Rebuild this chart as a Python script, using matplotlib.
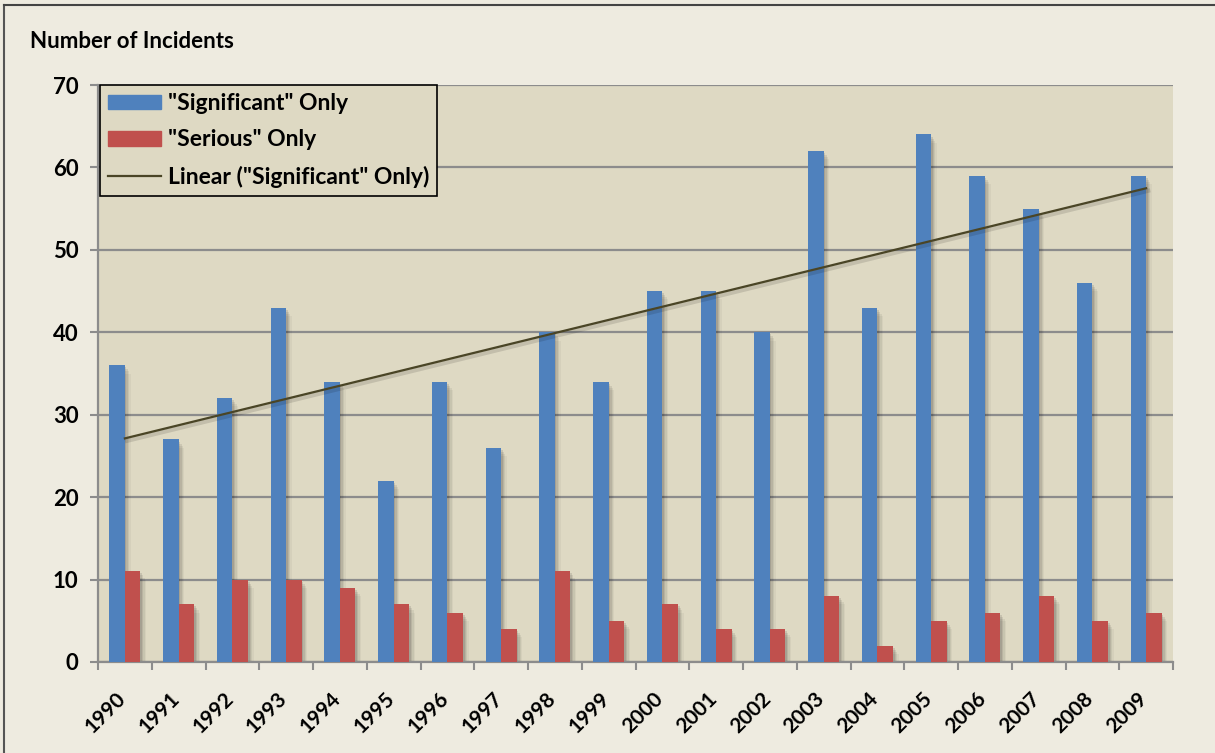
import numpy as np
import matplotlib
matplotlib.use("Agg")
import matplotlib.pyplot as plt
import matplotlib.transforms as mtransforms
from matplotlib.patches import Rectangle
from matplotlib.lines import Line2D

# ---------------------------------------------------------------
# Data
# ---------------------------------------------------------------
years = [str(y) for y in range(1990, 2010)]
significant = [36, 27, 32, 43, 34, 22, 34, 26, 40, 34,
               45, 45, 40, 62, 43, 64, 59, 55, 46, 59]
serious = [11, 7, 10, 10, 9, 7, 6, 4, 11, 5,
           7, 4, 4, 8, 2, 5, 6, 8, 5, 6]
y_ticks = [0, 10, 20, 30, 40, 50, 60, 70]

BLUE = "#4F81BD"
RED = "#C0504D"
TREND = "#4A4526"
PLOT_BG = "#DED9C3"
FIG_BG = "#EEEBE0"
GRID = "#8C8C8C"

plt.rcParams["font.family"] = ["Lato", "DejaVu Sans"]
plt.rcParams["font.weight"] = "bold"

fig = plt.figure(figsize=(12.15, 7.53), dpi=100, facecolor=FIG_BG)
ax = fig.add_axes([98 / 1215, 1 - 662 / 753, (1173 - 98) / 1215, (662 - 85) / 753])
ax.set_facecolor(PLOT_BG)

x = np.arange(len(years))
w = 0.29

# soft shadows behind the bars
for k, a in enumerate([0.10, 0.08, 0.06, 0.04]):
    off = 0.03 + 0.025 * k
    ax.bar(x - w / 2 + off, np.array(significant) - 0.25 * (k + 1), w,
           color="black", alpha=a, zorder=1, linewidth=0)
    ax.bar(x + w / 2 + off, np.array(serious) - 0.25 * (k + 1), w,
           color="black", alpha=a, zorder=1, linewidth=0)

ax.bar(x - w / 2, significant, w, color=BLUE, zorder=3, linewidth=0)
ax.bar(x + w / 2, serious, w, color=RED, zorder=3, linewidth=0)

# linear trendline of the significant series
coef = np.polyfit(x, significant, 1)
trend = np.polyval(coef, x)
ax.plot(x + 0.04, trend - 0.3, color="black", alpha=0.12, lw=3, zorder=3.5)
ax.plot(x, trend, color=TREND, lw=1.6, zorder=4)

ax.set_xlim(-0.5, len(years) - 0.5)
ax.set_ylim(0, 70)
ax.set_yticks(y_ticks)
ax.set_yticklabels([str(v) for v in y_ticks], fontsize=16, fontweight="bold")
ax.yaxis.grid(True, color=GRID, lw=1.6, zorder=0)
ax.set_axisbelow(True)

ax.set_xticks(x)
ax.set_xticklabels(years, rotation=45, ha="right", rotation_mode="anchor",
                   fontsize=15, fontweight="bold")
ax.set_xticks(np.arange(-0.5, len(years)), minor=True)
ax.tick_params(axis="x", which="major", length=0, pad=19)
ax.tick_params(axis="x", which="minor", length=6, width=1.5, color=GRID)
ax.tick_params(axis="y", length=6, width=1.5, color=GRID, pad=8)
shift = mtransforms.ScaledTranslation(-9 / 100, 0, fig.dpi_scale_trans)
for lab in ax.get_xticklabels():
    lab.set_transform(lab.get_transform() + shift)

for s in ["top", "right"]:
    ax.spines[s].set_visible(False)
for s in ["left", "bottom"]:
    ax.spines[s].set_color(GRID)
    ax.spines[s].set_linewidth(1.6)

handles = [Rectangle((0, 0), 1, 1, color=BLUE),
           Rectangle((0, 0), 1, 1, color=RED),
           Line2D([0], [0], color=TREND, lw=1.6)]
labels = ['"Significant" Only', '"Serious" Only', 'Linear ("Significant" Only)']
leg = ax.legend(handles, labels, loc="upper left", bbox_to_anchor=(0.002, 1.0),
                prop={"size": 16.5, "weight": "bold"}, frameon=True,
                fancybox=False, facecolor=PLOT_BG, edgecolor="black",
                framealpha=1, handlelength=2.3, handleheight=0.62,
                handletextpad=0.3, borderpad=0.35, labelspacing=0.67,
                borderaxespad=0)
leg.get_frame().set_linewidth(1.2)
leg.set_zorder(10)

fig.text(30 / 1215, 1 - 42 / 753, "Number of Incidents", fontsize=16,
         fontweight="bold", va="center", ha="left")

# outer chart frame (left and top edges visible)
fig.add_artist(Line2D([4 / 1215, 4 / 1215], [0, 1 - 5 / 753],
                      transform=fig.transFigure, color="#555555", lw=1.5))
fig.add_artist(Line2D([4 / 1215, 1], [1 - 5 / 753, 1 - 5 / 753],
                      transform=fig.transFigure, color="#444444", lw=1.5))

fig.savefig("out.png", dpi=100, facecolor=FIG_BG)
